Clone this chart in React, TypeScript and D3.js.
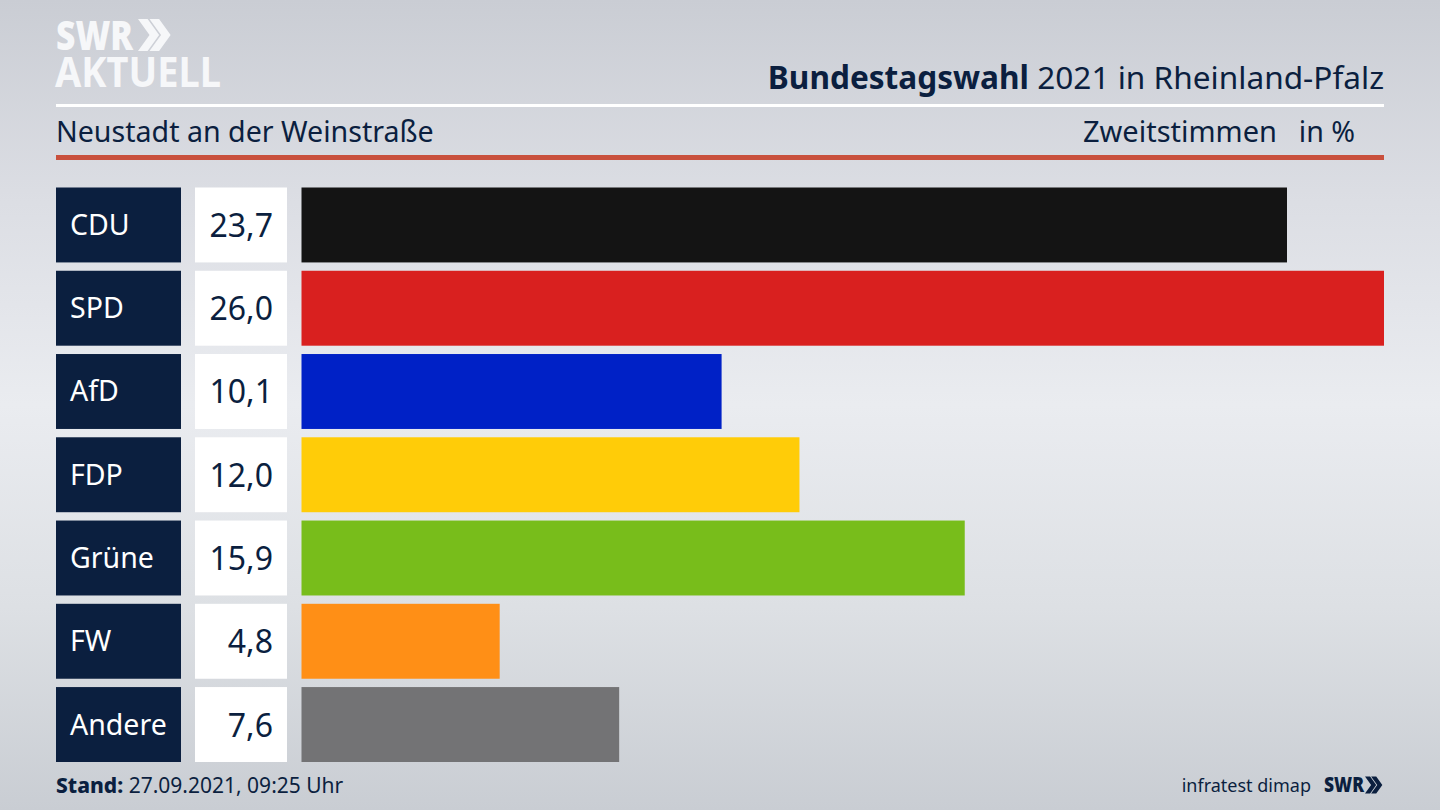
import React from "react";
import { scaleLinear, scaleBand } from "d3";

const parties = ["CDU", "SPD", "AfD", "FDP", "Grüne", "FW", "Andere"];
// second decimal is estimated from the bar lengths, labels show one decimal
const shares = [23.67, 26.0, 10.09, 11.96, 15.93, 4.76, 7.63];
const partyColors = ["#141414", "#d9201f", "#0021c6", "#ffcc08", "#78bd1b", "#ff8f16", "#737375"];

const NAVY = "#0b1f3f";
const FONT = "'Noto Sans', sans-serif";

const x = scaleLinear().domain([0, 26]).range([301.5, 1384]);
const y = scaleBand<string>().domain(parties).range([187.5, 762]).paddingInner(0.1);

const fmt = (v: number) => v.toFixed(1).replace(".", ",");

// two chevrons after the SWR wordmark
const chevrons = (cx: number, cy: number, h: number, fill: string) => {
    const w = h * 0.36;
    const t = h * 0.3;
    const one = (ox: number) =>
        `M${ox},${cy - h / 2} L${ox + t},${cy - h / 2} L${ox + t + w},${cy} L${ox + t},${cy + h / 2} L${ox},${cy + h / 2} L${ox + w},${cy} Z`;
    return <path d={one(cx) + one(cx + h * 0.36)} fill={fill} />;
};

const App = () => {
    return (
        <svg
            width={1440}
            height={810}
            viewBox="0 0 1440 810"
            style={{ position: "fixed", left: 0, top: 0, display: "block" }}
            fontFamily={FONT}
        >
            <defs>
                <linearGradient id="bg" x1="0" y1="0" x2="0" y2="1">
                    <stop offset="0%" stopColor="#cacdd4" />
                    <stop offset="25%" stopColor="#dcdee4" />
                    <stop offset="50%" stopColor="#eaecf0" />
                    <stop offset="75%" stopColor="#dde0e4" />
                    <stop offset="100%" stopColor="#c9cdd3" />
                </linearGradient>
            </defs>
            <rect width={1440} height={810} fill="url(#bg)" />

            {/* logo */}
            <text x={56} y={50} fontSize={41} fontWeight={900} fill="#f6f7f9" textLength={77} lengthAdjust="spacingAndGlyphs">
                SWR
            </text>
            {chevrons(138, 35, 32, "#f6f7f9")}
            <text x={55} y={87} fontSize={41} fontWeight={700} fill="#f6f7f9" textLength={166} lengthAdjust="spacingAndGlyphs">
                AKTUELL
            </text>

            {/* header */}
            <text x={1384} y={89} fontSize={31.6} textAnchor="end" fill={NAVY}>
                <tspan fontWeight={700}>Bundestagswahl</tspan> 2021 in Rheinland-Pfalz
            </text>
            <rect x={56} y={104} width={1328} height={3} fill="#ffffff" />
            <text x={56} y={142} fontSize={28.6} fill={NAVY}>
                Neustadt an der Weinstraße
            </text>
            <text x={1277} y={142} fontSize={29} textAnchor="end" fill={NAVY}>
                Zweitstimmen
            </text>
            <text x={1355} y={142} fontSize={28.6} textAnchor="end" fill={NAVY}>
                in %
            </text>
            <rect x={56} y={155} width={1328} height={5} fill="#c9503d" />

            {/* rows */}
            {parties.map((p, i) => {
                const top = y(p) as number;
                const h = y.bandwidth();
                const mid = top + h / 2;
                return (
                    <g key={p}>
                        <rect x={56} y={top} width={125} height={h} fill={NAVY} />
                        <text x={70} y={mid + 10} fontSize={28.5} fill="#ffffff">
                            {p}
                        </text>
                        <rect x={195} y={top} width={92} height={h} fill="#ffffff" />
                        <text x={273} y={mid + 12} fontSize={32} textAnchor="end" fill={NAVY}>
                            {fmt(shares[i])}
                        </text>
                        <rect x={x(0)} y={top} width={x(shares[i]) - x(0)} height={h} fill={partyColors[i]} />
                    </g>
                );
            })}

            {/* footer */}
            <text x={56} y={793} fontSize={21} fill={NAVY}>
                <tspan fontWeight={800}>Stand:</tspan> 27.09.2021, 09:25 Uhr
            </text>
            <text x={1311} y={792} fontSize={18} textAnchor="end" fill={NAVY}>
                infratest dimap
            </text>
            <text x={1324} y={792} fontSize={21} fontWeight={900} fill={NAVY} textLength={40} lengthAdjust="spacingAndGlyphs">
                SWR
            </text>
            {chevrons(1365, 785, 17, NAVY)}
        </svg>
    );
};

export default App;
